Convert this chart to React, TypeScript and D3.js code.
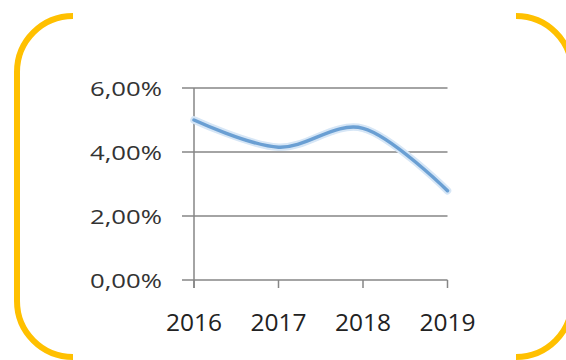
import React from "react";
import * as d3 from "d3";

const years = ["2016", "2017", "2018", "2019"];
const values = [0.05, 0.0415, 0.0474, 0.0279];
const yTicks = [0, 0.02, 0.04, 0.06];
const yTickLabels = ["0,00%", "2,00%", "4,00%", "6,00%"];

export default function App() {
  const W = 566;
  const H = 360;
  const x = d3.scalePoint<string>().domain(years).range([194, 447.5]);
  const y = d3.scaleLinear().domain([0, 0.06]).range([280, 88]);
  const line = d3
    .line<number>()
    .x((_, i) => x(years[i]) as number)
    .y((d) => y(d))
    .curve(d3.curveCardinal.tension(0));
  const path = line(values) || "";

  const r = 56;
  const L = 17, R = 572, T = 16, B = 357;
  const leftBracket = `M ${L + r} ${T} A ${r} ${r} 0 0 0 ${L} ${T + r} L ${L} ${B - r} A ${r} ${r} 0 0 0 ${L + r} ${B}`;
  const rightBracket = `M ${R - r} ${T} A ${r} ${r} 0 0 1 ${R} ${T + r} L ${R} ${B - r} A ${r} ${r} 0 0 1 ${R - r} ${B}`;

  const font = "'Open Sans', 'DejaVu Sans', sans-serif";
  const x0 = x(years[0]) as number;
  const x1 = x(years[years.length - 1]) as number;

  return (
    <svg
      width={W}
      height={H}
      style={{ position: "absolute", left: 0, top: 0, background: "#fff" }}
    >
      <path d={leftBracket} fill="none" stroke="#FFC000" strokeWidth={6} />
      <path d={rightBracket} fill="none" stroke="#FFC000" strokeWidth={6} />

      {yTicks.map((t, i) => (
        <g key={t}>
          <line x1={182} x2={x1} y1={y(t)} y2={y(t)} stroke="#868686" strokeWidth={1.5} />
          <text
            x={162}
            y={y(t)}
            textAnchor="end"
            dominantBaseline="central"
            fontFamily={font}
            fontSize={20.5}
            fill="#333"
            textLength={72}
            lengthAdjust="spacingAndGlyphs"
          >
            {yTickLabels[i]}
          </text>
        </g>
      ))}
      <line x1={x0} x2={x0} y1={y(0.06)} y2={288} stroke="#868686" strokeWidth={1.5} />
      {years.map((yr) => (
        <g key={yr}>
          <line
            x1={x(yr) as number}
            x2={x(yr) as number}
            y1={y(0)}
            y2={288}
            stroke="#868686"
            strokeWidth={1.5}
          />
          <text
            x={x(yr) as number}
            y={321}
            textAnchor="middle"
            dominantBaseline="central"
            fontFamily={font}
            fontSize={24.5}
            fill="#222"
          >
            {yr}
          </text>
        </g>
      ))}

      <path d={path} fill="none" stroke="#d6e6f6" strokeWidth={7.5} strokeLinecap="round" />
      <path d={path} fill="none" stroke="#6a9fd3" strokeWidth={3.5} strokeLinecap="round" />
    </svg>
  );
}
